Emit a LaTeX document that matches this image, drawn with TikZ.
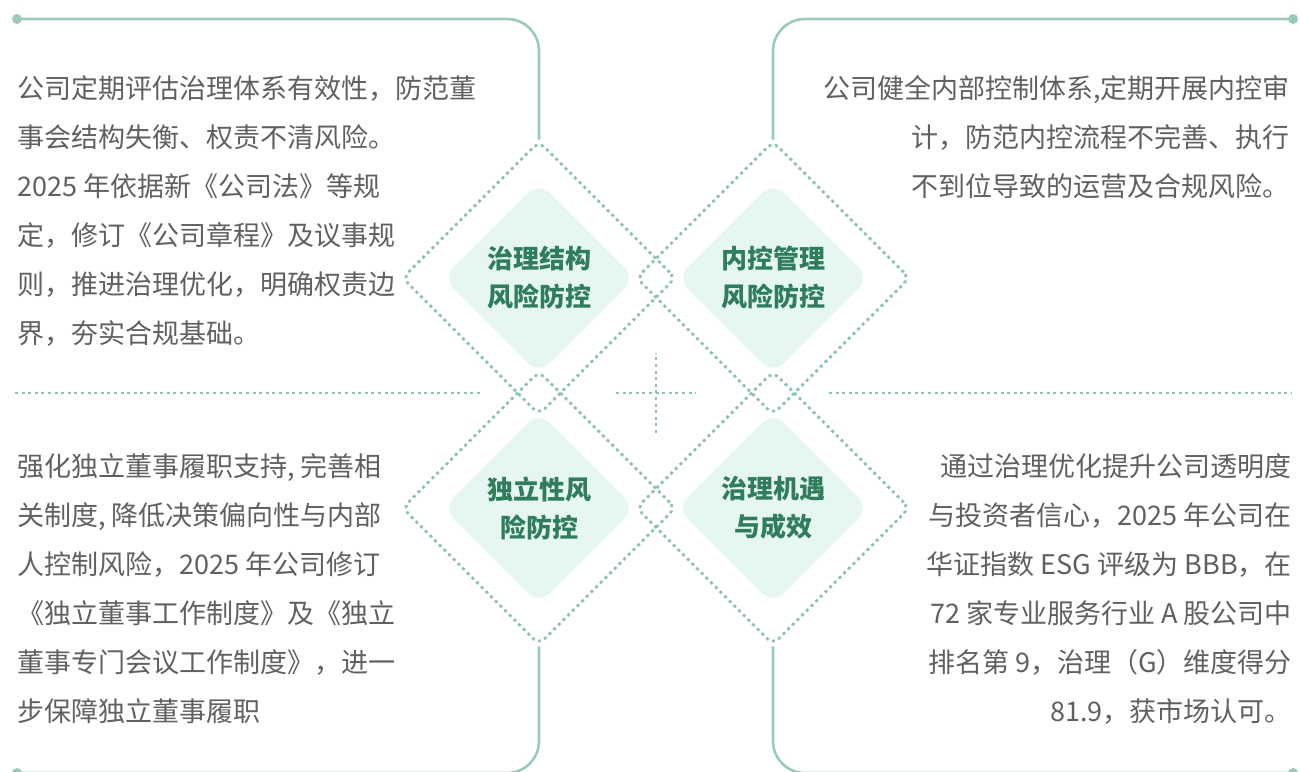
\documentclass[tikz,border=0pt]{standalone}
\usepackage{fontspec}
\usepackage{tikz}
\usetikzlibrary{shapes.geometric}
\setmainfont{Noto Sans CJK SC}
\newfontfamily\cuerpo{Noto Sans CJK SC}
\definecolor{verdeLinea}{HTML}{9CCAB9}
\definecolor{verdePunto}{HTML}{8EC3AF}
\definecolor{verdeFondo}{HTML}{E5F7F0}
\definecolor{verdeTexto}{HTML}{2F7D5C}
\definecolor{grisTexto}{HTML}{606060}

\begin{document}
\begin{tikzpicture}[x=1pt, y=-1pt,
        marco/.style={draw=verdeLinea, line width=2.6pt, rounded corners=32pt},
        punteado/.style={draw=verdePunto, line width=2.8pt, dash pattern=on 3pt off 3.6pt},
        rombo/.style={diamond, punteado, minimum width=274pt, minimum height=274pt, inner sep=0pt, rounded corners=8pt},
        relleno/.style={diamond, fill=verdeFondo, minimum width=192pt, minimum height=192pt, inner sep=0pt, rounded corners=15pt, align=center, text=verdeTexto, font=\fontsize{26}{38}\selectfont\bfseries},
        punto/.style={circle, fill=verdeLinea, minimum size=10pt, inner sep=0pt},
        texto/.style={inner sep=0pt, text=grisTexto, font=\cuerpo\fontsize{27}{49}\selectfont}
    ]
    \useasboundingbox (0,0) rectangle (1300,771);
    % Rombos
    \node[rombo] (romboTL) at (539,278) {};
    \node[rombo] (romboTR) at (773,278) {};
    \node[rombo] (romboBL) at (539,508) {};
    \node[rombo] (romboBR) at (773,508) {};
    \node[relleno] (gobEstructura) at (romboTL) {治理结构\\风险防控};
    \node[relleno] (controlInterno) at (romboTR) {内控管理\\风险防控};
    \node[relleno] (independencia) at (romboBL) {独立性风\\险防控};
    \node[relleno] (oportunidades) at (romboBR) {治理机遇\\与成效};
    % Lineas punteadas
    \coordinate (centro) at (656,393);
    \draw[punteado] (15,393) -- (482,393);
    \draw[punteado] (829,393) -- (1292,393);
    \draw[punteado] ([xshift=-40pt]centro) -- ([xshift=40pt]centro);
    \draw[punteado] ([yshift=-40pt]centro) -- ([yshift=40pt]centro);
    % Marcos
    \node[punto] (puntoTL) at (17,19) {};
    \node[punto] (puntoTR) at (1293,19) {};
    \node[punto] (puntoBL) at (17,773) {};
    \node[punto] (puntoBR) at (1293,773) {};
    \draw[marco] (puntoTL.center) -| (romboTL.north);
    \draw[marco] (puntoTR.center) -| (romboTR.north);
    \draw[marco] (puntoBL.center) -| (romboBL.south);
    \draw[marco] (puntoBR.center) -| (romboBR.south);
    % Textos
    \node[texto, anchor=north west, align=left] (textoTL) at (17,75) {公司定期评估治理体系有效性，防范董\\事会结构失衡、权责不清风险。\\2025 年依据新《公司法》等规\\定，修订《公司章程》及议事规\\则，推进治理优化，明确权责边\\界，夯实合规基础。};
    \node[texto, anchor=north east, align=right] (textoTR) at (1290,75) {公司健全内部控制体系,定期开展内控审\\计，防范内控流程不完善、执行\\不到位导致的运营及合规风险。};
    \node[texto, anchor=north west, align=left] (textoBL) at (17,453) {强化独立董事履职支持, 完善相\\关制度, 降低决策偏向性与内部\\人控制风险，2025 年公司修订\\《独立董事工作制度》及《独立\\董事专门会议工作制度》，进一\\步保障独立董事履职};
    \node[texto, anchor=north east, align=right] (textoBR) at (1292,453) {通过治理优化提升公司透明度\\与投资者信心，2025 年公司在\\华证指数 ESG 评级为 BBB，在\\72 家专业服务行业 A 股公司中\\排名第 9，治理（G）维度得分\\81.9，获市场认可。};
\end{tikzpicture}
\end{document}
